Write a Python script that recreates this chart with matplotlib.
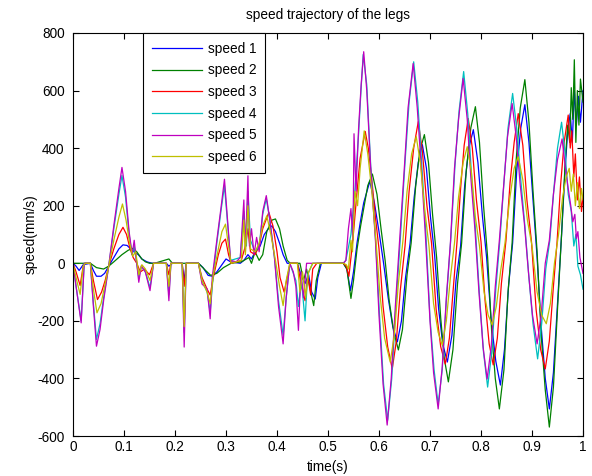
import matplotlib
matplotlib.use("Agg")
import matplotlib.pyplot as plt

# knots (time in s, speed in mm/s)
t1 = [0, 0.006, 0.012, 0.020, 0.034, 0.040, 0.046, 0.055, 0.062, 0.070, 0.080, 0.090, 0.098, 0.106,
      0.113, 0.120, 0.128, 0.135, 0.145, 0.155, 0.183, 0.188, 0.195, 0.214, 0.218, 0.222, 0.246, 0.255,
      0.265, 0.273, 0.282, 0.290, 0.300, 0.309, 0.328, 0.335, 0.343, 0.350, 0.357, 0.367, 0.375, 0.383,
      0.390, 0.397, 0.405, 0.412, 0.420, 0.440, 0.447, 0.455, 0.462, 0.468, 0.475, 0.480, 0.487, 0.530,
      0.537, 0.544, 0.550, 0.557, 0.564, 0.570, 0.582, 0.591, 0.600, 0.609, 0.618, 0.627, 0.636, 0.644,
      0.652, 0.661, 0.669, 0.677, 0.685, 0.693, 0.701, 0.709, 0.717, 0.725, 0.734, 0.743, 0.751, 0.760,
      0.768, 0.776, 0.785, 0.794, 0.803, 0.811, 0.820, 0.829, 0.838, 0.846, 0.854, 0.862, 0.870, 0.878,
      0.886, 0.894, 0.902, 0.910, 0.918, 0.926, 0.934, 0.942, 0.950, 0.958, 0.965, 0.970, 0.975, 0.979,
      0.983, 0.987, 0.991, 0.995, 1.0]
speed1 = [0, -10, -25, -5, 0, -25, -45, -45, -35, -10, 20, 50, 64, 62,
          50, 40, 30, 15, 5, 0, 0, -10, 0, 0, -60, 0, 0, -15,
          -42, -45, -30, -10, 15, 5, 0, 10, 30, 15, 40, 60, 100, 120,
          130, 110, 70, 30, 0, 0, -40, -70, -40, -100, -124, -50, 0, 0,
          -20, -95, -30, 72, 150, 210, 285, 210, 110, 0, -120, -220, -273, -200,
          -50, 70, 230, 350, 412, 330, 160, 30, -160, -280, -343, -250, -60, 60,
          270, 400, 464, 350, 160, 20, -200, -340, -423, -300, -80, 70, 320, 470,
          551, 420, 220, 20, -220, -400, -506, -380, -140, 100, 330, 460, 520, 420,
          600, 480, 580, 490, 600]

t2 = [0, 0.034, 0.046, 0.060, 0.070, 0.080, 0.096, 0.108, 0.117, 0.125, 0.135, 0.142, 0.150, 0.160,
      0.188, 0.195, 0.246, 0.260, 0.270, 0.282, 0.295, 0.310, 0.330, 0.345, 0.350, 0.357, 0.365, 0.372,
      0.380, 0.390, 0.397, 0.405, 0.412, 0.420, 0.426, 0.445, 0.452, 0.458, 0.465, 0.472, 0.477, 0.485,
      0.530, 0.537, 0.545, 0.550, 0.557, 0.564, 0.570, 0.578, 0.587, 0.596, 0.604, 0.612, 0.620, 0.629,
      0.638, 0.646, 0.655, 0.663, 0.672, 0.680, 0.689, 0.697, 0.705, 0.713, 0.721, 0.728, 0.736, 0.745,
      0.754, 0.762, 0.771, 0.780, 0.789, 0.797, 0.805, 0.813, 0.821, 0.828, 0.836, 0.845, 0.853, 0.861,
      0.869, 0.877, 0.886, 0.894, 0.902, 0.910, 0.918, 0.926, 0.934, 0.942, 0.950, 0.958, 0.965, 0.970,
      0.974, 0.977, 0.980, 0.983, 0.986, 0.989, 0.992, 0.995, 1.0]
speed2 = [0, 0, -15, -20, -10, 5, 30, 45, 52, 40, 15, 5, 0, 0,
          15, 0, 0, -25, -42, -35, -15, 0, 5, 20, 0, 40, 10, 30,
          110, 150, 154, 120, 60, 10, 0, 0, -60, -20, -90, -147, -60, 0,
          0, -20, -122, -60, 50, 130, 190, 270, 310, 240, 120, 10, -130, -240,
          -301, -230, -40, 70, 270, 390, 447, 350, 170, 20, -190, -330, -412, -300,
          -70, 70, 320, 470, 544, 420, 200, 20, -240, -400, -506, -370, -100, 70,
          360, 540, 638, 490, 250, 40, -250, -440, -569, -430, -160, 100, 350, 480,
          420, 610, 500, 707, 420, 600, 480, 640, 560]

t3 = [0, 0.006, 0.014, 0.020, 0.024, 0.034, 0.040, 0.048, 0.056, 0.063, 0.070, 0.080, 0.090, 0.098,
      0.105, 0.112, 0.118, 0.125, 0.132, 0.140, 0.150, 0.158, 0.183, 0.188, 0.192, 0.214, 0.218, 0.222,
      0.246, 0.253, 0.263, 0.269, 0.275, 0.285, 0.292, 0.299, 0.305, 0.310, 0.330, 0.338, 0.343, 0.348,
      0.357, 0.365, 0.372, 0.384, 0.392, 0.400, 0.406, 0.414, 0.420, 0.426, 0.440, 0.448, 0.455, 0.460,
      0.466, 0.470, 0.478, 0.530, 0.536, 0.541, 0.545, 0.550, 0.556, 0.563, 0.573, 0.579, 0.585, 0.593,
      0.600, 0.608, 0.617, 0.626, 0.634, 0.642, 0.651, 0.659, 0.668, 0.677, 0.685, 0.694, 0.703, 0.712,
      0.721, 0.730, 0.738, 0.746, 0.753, 0.760, 0.767, 0.775, 0.783, 0.791, 0.800, 0.808, 0.816, 0.824,
      0.832, 0.840, 0.849, 0.857, 0.865, 0.873, 0.882, 0.890, 0.899, 0.908, 0.917, 0.926, 0.934, 0.942,
      0.949, 0.956, 0.963, 0.971, 0.975, 0.978, 0.982, 0.985, 0.989, 0.993, 0.997, 1.0]
speed3 = [0, -30, -77, -10, 0, 0, -60, -126, -100, -60, -10, 50, 100, 125,
          100, 50, 20, 0, -30, -20, -40, 0, 0, -40, 0, 0, -80, 0,
          0, -50, -90, -110, -50, 30, 70, 84, 30, 0, 10, 60, 120, 40,
          30, 60, 120, 177, 130, 40, -50, -100, -50, 0, 0, -80, -130, -40,
          -110, -20, 0, 0, -10, -45, 20, 106, 230, 365, 458, 400, 307, 160,
          50, -150, -290, -367, -270, -90, 60, 250, 400, 492, 390, 200, 70, -160,
          -290, -350, -260, -80, 75, 260, 410, 503, 400, 220, 75, -130, -280, -353,
          -260, -70, 80, 280, 420, 520, 410, 220, 75, -160, -300, -367, -270, -80,
          70, 270, 420, 515, 400, 460, 300, 380, 220, 300, 180, 230]

t4 = [0, 0.006, 0.016, 0.022, 0.034, 0.040, 0.046, 0.053, 0.060, 0.070, 0.080, 0.090, 0.096, 0.103,
      0.110, 0.116, 0.120, 0.129, 0.134, 0.142, 0.151, 0.158, 0.183, 0.188, 0.192, 0.214, 0.218, 0.222,
      0.246, 0.253, 0.263, 0.269, 0.275, 0.282, 0.290, 0.297, 0.303, 0.309, 0.328, 0.335, 0.340, 0.343,
      0.348, 0.357, 0.365, 0.372, 0.379, 0.386, 0.395, 0.403, 0.412, 0.418, 0.425, 0.437, 0.442, 0.448,
      0.455, 0.460, 0.470, 0.530, 0.535, 0.545, 0.553, 0.560, 0.565, 0.569, 0.576, 0.584, 0.593, 0.601,
      0.609, 0.617, 0.625, 0.633, 0.642, 0.651, 0.659, 0.668, 0.676, 0.684, 0.692, 0.700, 0.708, 0.716,
      0.724, 0.732, 0.741, 0.749, 0.757, 0.766, 0.774, 0.781, 0.789, 0.797, 0.805, 0.813, 0.821, 0.829,
      0.837, 0.845, 0.853, 0.862, 0.870, 0.878, 0.886, 0.894, 0.902, 0.911, 0.919, 0.927, 0.935, 0.943,
      0.950, 0.958, 0.965, 0.971, 0.977, 0.982, 0.986, 0.990, 0.995, 1.0]
speed4 = [0, -80, -200, 0, 0, -140, -265, -210, -120, -10, 120, 240, 305, 230,
          100, 30, 60, -50, -10, -30, -85, 0, 0, -110, 0, 0, -240, 0,
          0, -60, -100, -170, -40, 70, 180, 270, 140, 10, 20, 180, 60, 250,
          80, 40, 60, 170, 225, 150, 20, -130, -250, -120, 0, -60, -150, -60,
          -200, -40, 0, 0, 10, 100, 260, 450, 610, 725, 620, 330, 90, -180,
          -420, -545, -400, -150, 90, 350, 560, 700, 560, 340, 100, -190, -370, -490,
          -370, -130, 90, 340, 530, 666, 520, 320, 120, -110, -310, -430, -310, -90,
          80, 280, 470, 590, 470, 290, 130, -50, -210, -332, -210, -20, 80, 260,
          400, 490, 380, 240, 180, 60, 100, -10, -40, -90]

t5 = [0, 0.006, 0.016, 0.022, 0.034, 0.040, 0.046, 0.053, 0.060, 0.070, 0.080, 0.090, 0.096, 0.103,
      0.110, 0.116, 0.120, 0.125, 0.129, 0.134, 0.142, 0.151, 0.158, 0.183, 0.188, 0.192, 0.214, 0.218,
      0.222, 0.246, 0.253, 0.263, 0.269, 0.273, 0.282, 0.290, 0.297, 0.303, 0.309, 0.320, 0.328, 0.335,
      0.338, 0.343, 0.346, 0.350, 0.355, 0.360, 0.365, 0.372, 0.379, 0.386, 0.395, 0.403, 0.412, 0.418,
      0.425, 0.432, 0.437, 0.442, 0.447, 0.452, 0.458, 0.475, 0.530, 0.535, 0.540, 0.545, 0.549, 0.551,
      0.555, 0.560, 0.565, 0.570, 0.576, 0.584, 0.593, 0.600, 0.608, 0.616, 0.624, 0.632, 0.641, 0.650,
      0.657, 0.667, 0.675, 0.683, 0.691, 0.700, 0.707, 0.716, 0.724, 0.732, 0.740, 0.748, 0.756, 0.765,
      0.773, 0.780, 0.788, 0.796, 0.804, 0.812, 0.820, 0.828, 0.836, 0.844, 0.852, 0.861, 0.869, 0.877,
      0.885, 0.893, 0.901, 0.910, 0.918, 0.926, 0.934, 0.942, 0.950, 0.959, 0.965, 0.971, 0.976, 0.980,
      0.984, 0.987, 0.990, 0.994, 1.0]
speed5 = [0, -80, -207, 0, 0, -150, -288, -230, -130, -10, 130, 260, 333, 250,
          110, 30, 80, 0, -66, -8, -31, -95, 0, 0, -130, 0, 0, -291,
          0, 0, -72, -89, -193, -50, 80, 190, 292, 150, 10, 5, 20, 220,
          40, 304, 60, 120, 30, 90, 40, 180, 235, 150, 20, -150, -280, -120,
          0, -30, -80, -233, -30, -120, 0, 0, 0, 10, 120, 190, 80, 450,
          250, 470, 620, 735, 600, 320, 80, -180, -420, -562, -400, -150, 95, 340,
          540, 694, 540, 330, 95, -200, -380, -506, -360, -120, 70, 330, 500, 642,
          500, 300, 120, -100, -290, -402, -290, -80, 80, 260, 440, 555, 440, 270,
          140, -30, -180, -280, -180, 0, 80, 240, 360, 432, 340, 260, 200, 144,
          170, 86, 110, 20, -35]

t6 = [0, 0.006, 0.014, 0.020, 0.024, 0.034, 0.040, 0.047, 0.055, 0.062, 0.070, 0.080, 0.090, 0.097,
      0.104, 0.111, 0.117, 0.123, 0.129, 0.135, 0.142, 0.151, 0.158, 0.183, 0.188, 0.192, 0.214, 0.218,
      0.222, 0.246, 0.253, 0.263, 0.269, 0.275, 0.285, 0.292, 0.299, 0.305, 0.310, 0.330, 0.335, 0.338,
      0.343, 0.348, 0.357, 0.365, 0.372, 0.380, 0.388, 0.397, 0.405, 0.412, 0.418, 0.425, 0.440, 0.445,
      0.450, 0.456, 0.462, 0.470, 0.530, 0.536, 0.540, 0.545, 0.548, 0.553, 0.558, 0.563, 0.571, 0.578,
      0.586, 0.594, 0.602, 0.611, 0.622, 0.630, 0.638, 0.647, 0.655, 0.664, 0.673, 0.681, 0.690, 0.698,
      0.707, 0.716, 0.724, 0.732, 0.740, 0.748, 0.756, 0.765, 0.773, 0.781, 0.789, 0.797, 0.806, 0.814,
      0.822, 0.830, 0.839, 0.847, 0.856, 0.865, 0.873, 0.882, 0.891, 0.900, 0.910, 0.919, 0.928, 0.936,
      0.944, 0.952, 0.960, 0.967, 0.973, 0.977, 0.981, 0.985, 0.989, 0.993, 0.997, 1.0]
speed6 = [0, -50, -108, -10, 0, 0, -90, -172, -140, -80, -10, 80, 160, 206,
          150, 70, 25, 40, -40, -5, -20, -60, 0, 0, -80, 0, 0, -220,
          0, 0, -60, -100, -140, -40, 50, 110, 136, 60, 0, 10, 150, 30,
          200, 50, 40, 70, 130, 165, 100, 10, -80, -147, -60, 0, 0, -100,
          -30, -120, -30, 0, 0, -5, -20, 80, 40, 250, 200, 330, 460, 380,
          250, 80, -110, -260, -343, -250, -70, 80, 250, 380, 440, 350, 180, 60,
          -140, -240, -284, -200, -50, 70, 230, 350, 405, 320, 160, 60, -100, -180,
          -214, -150, -20, 70, 220, 330, 370, 290, 150, 60, -100, -180, -210, -140,
          0, 100, 230, 300, 330, 250, 310, 200, 280, 190, 260, 220]

labels = ["speed 1", "speed 2", "speed 3", "speed 4", "speed 5", "speed 6"]
colors = ["#0000ff", "#008000", "#ff0000", "#00bfbf", "#bf00bf", "#bfbf00"]

plt.rcParams['font.family'] = ['Liberation Sans', 'DejaVu Sans']
plt.rcParams['axes.unicode_minus'] = False
fs = 9.8

fig = plt.figure(figsize=(5.92, 4.76), dpi=100)
ax = fig.add_axes([73 / 592, 40 / 476, 510 / 592, 403 / 476])

series = [(t1, speed1), (t2, speed2), (t3, speed3), (t4, speed4), (t5, speed5), (t6, speed6)]
for (t, v), lab, col in zip(series, labels, colors):
    ax.plot(t, v, color=col, lw=0.9, label=lab)

ax.set_xlim(0, 1)
ax.set_ylim(-600, 800)
ax.set_xticks([0, 0.1, 0.2, 0.3, 0.4, 0.5, 0.6, 0.7, 0.8, 0.9, 1])
ax.set_xticklabels(["0", "0.1", "0.2", "0.3", "0.4", "0.5", "0.6", "0.7", "0.8", "0.9", "1"])
ax.set_yticks(range(-600, 801, 200))
ax.tick_params(direction='in', top=True, right=True, length=4, width=0.8, labelsize=fs)
ax.tick_params(axis='x', pad=3)
ax.tick_params(axis='y', pad=6)
for s in ax.spines.values():
    s.set_linewidth(0.8)

ax.set_title("speed trajectory of the legs", fontsize=fs, pad=10)
ax.set_xlabel("time(s)", fontsize=fs, labelpad=4)
ax.set_ylabel("speed(mm/s)", fontsize=fs, labelpad=0)

leg = ax.legend(loc='upper left', bbox_to_anchor=(70 / 510, 1.0), borderaxespad=0,
                fontsize=fs, handlelength=3.7, labelspacing=0.56, fancybox=False,
                framealpha=1, edgecolor='black', borderpad=0.65, handletextpad=0.4)
leg.get_frame().set_linewidth(0.8)

fig.savefig("out.png", dpi=100)
